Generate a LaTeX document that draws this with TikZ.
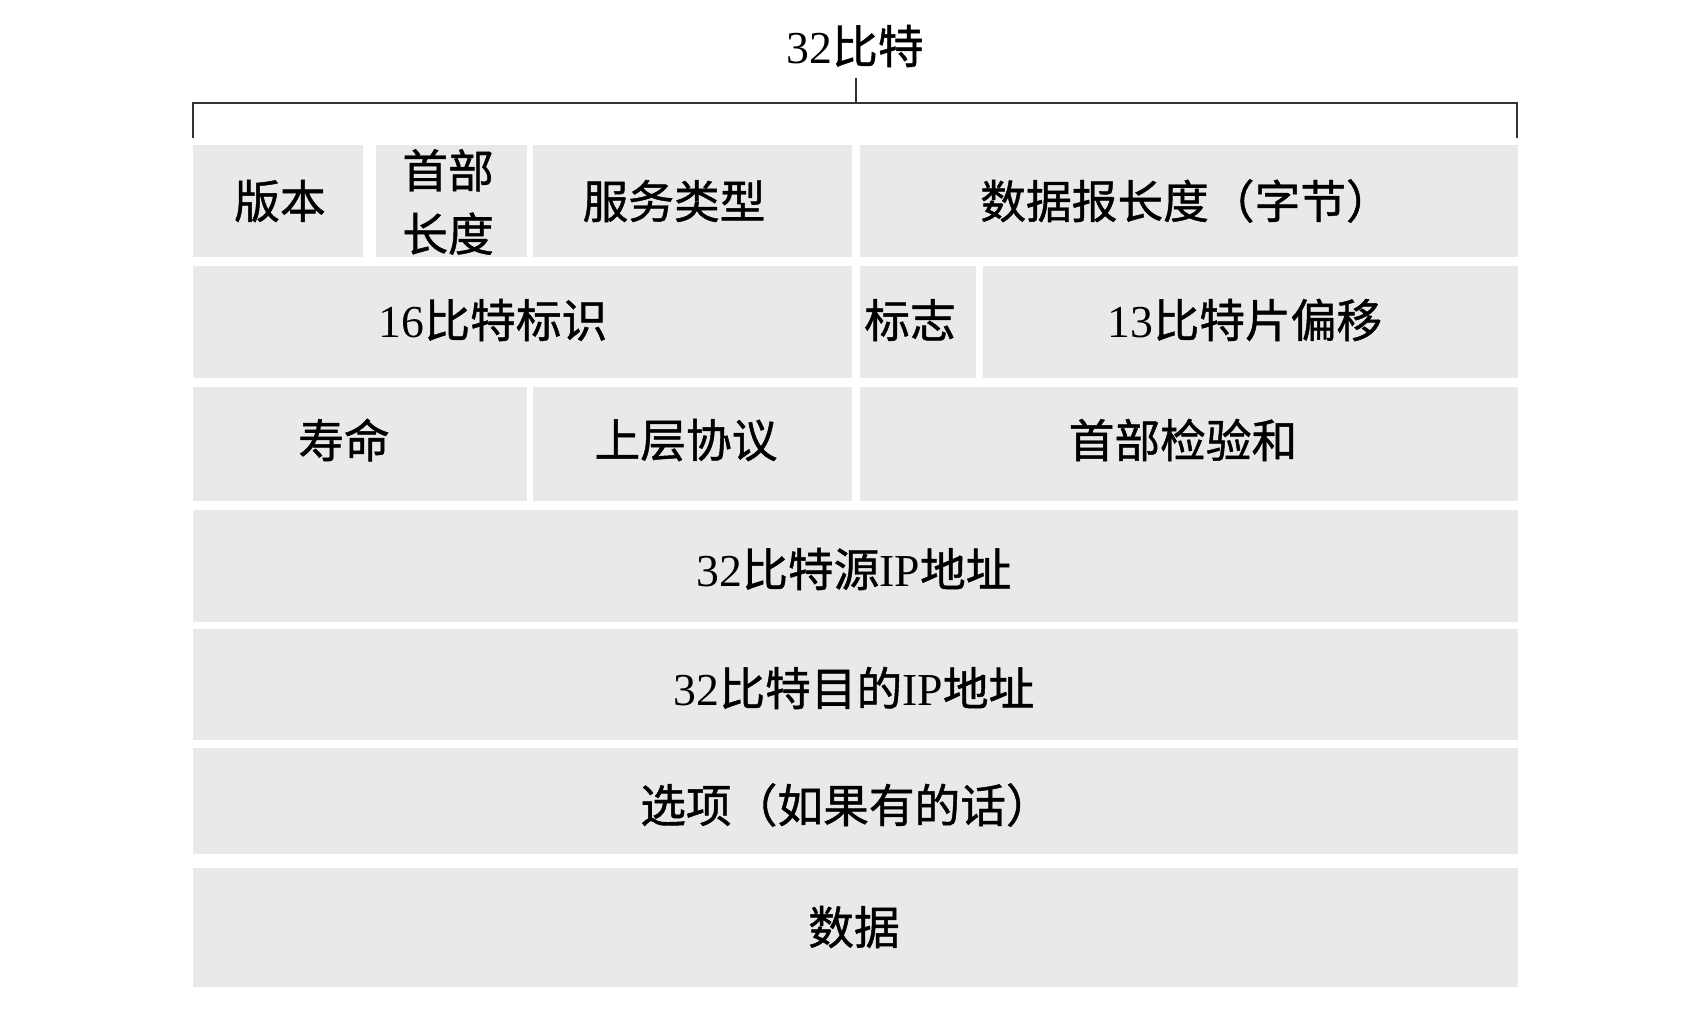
\documentclass[tikz,border=0pt]{standalone}
\usepackage{fontspec}
\setmainfont{Liberation Serif}
\newfontfamily\cjk[FakeBold=1]{Noto Sans CJK SC}
\definecolor{fieldgray}{RGB}{233,233,233}
\begin{document}
\begin{tikzpicture}[x=0.01cm,y=-0.01cm,
  field/.style={fill=fieldgray},
  lbl/.style={inner sep=0pt,font=\fontsize{13}{17}\selectfont,text=black,align=center},
  brk/.style={line width=0.7pt,draw=black!80}]
\useasboundingbox[fill=white] (0,0) rectangle (1700,1020);
% title and bracket
\node[lbl] (title) at (855,46) {32{\cjk 比特}};
\coordinate (bl) at (193,138);
\coordinate (blt) at (193,103);
\coordinate (br) at (1517,138);
\coordinate (brt) at (1517,103);
\coordinate (bm) at (856,103);
\coordinate (bmt) at (856,78);
\draw[brk] (bl) -- (blt) -- (brt) -- (br);
\draw[brk] (bm) -- (bmt);
% row 1
\fill[field] (193,145) rectangle (363,257);
\fill[field] (376,145) rectangle (527,257);
\fill[field] (533,145) rectangle (852,257);
\fill[field] (860,145) rectangle (1518,257);
\node[lbl] (ver) at (280,201) {\cjk 版本};
\node[lbl,font=\fontsize{13}{18}\selectfont] (hlen) at (448,202) {\cjk 首部\\[0pt]\cjk 长度};
\node[lbl] (tos) at (674,201) {\cjk 服务类型};
\node[lbl] (len) at (1186,201) {\cjk 数据报长度（字节）};
% row 2
\fill[field] (193,266) rectangle (852,378);
\fill[field] (860,266) rectangle (976,378);
\fill[field] (983,266) rectangle (1518,378);
\node[lbl] (id) at (493,320) {16{\cjk 比特标识}};
\node[lbl] (flag) at (910,320) {\cjk 标志};
\node[lbl] (frag) at (1245,320) {13{\cjk 比特片偏移}};
% row 3
\fill[field] (193,387) rectangle (527,501);
\fill[field] (533,387) rectangle (852,501);
\fill[field] (860,387) rectangle (1518,501);
\node[lbl] (ttl) at (344,440) {\cjk 寿命};
\node[lbl] (proto) at (686,440) {\cjk 上层协议};
\node[lbl] (csum) at (1183,440) {\cjk 首部检验和};
% row 4
\fill[field] (193,510) rectangle (1518,622);
\node[lbl] (src) at (854,569) {32{\cjk 比特源}IP{\cjk 地址}};
% row 5
\fill[field] (193,629) rectangle (1518,740);
\node[lbl] (dst) at (854,688) {32{\cjk 比特目的}IP{\cjk 地址}};
% row 6
\fill[field] (193,748) rectangle (1518,854);
\node[lbl] (opt) at (846,805) {\cjk 选项（如果有的话）};
% row 7
\fill[field] (193,868) rectangle (1518,987);
\node[lbl] (data) at (854,927) {\cjk 数据};
\end{tikzpicture}
\end{document}
